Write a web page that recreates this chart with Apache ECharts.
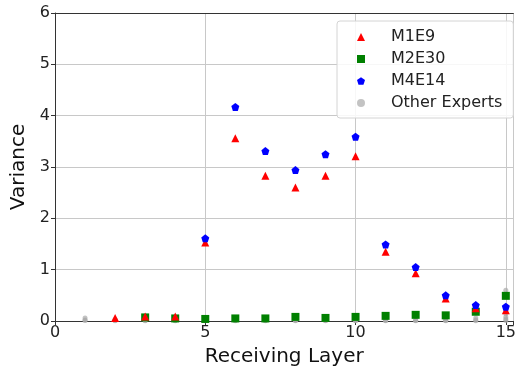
<!DOCTYPE html>
<html>
<head>
<meta charset="utf-8">
<script src="https://cdn.jsdelivr.net/npm/echarts@6/dist/echarts.min.js"></script>
<style>html,body{margin:0;padding:0;background:#fff}#c{width:519px;height:373px}</style>
</head>
<body>
<div id="c"></div>
<script>
const layers = [1,2,3,4,5,6,7,8,9,10,11,12,13,14,15];
const m1e9Layers = [2,3,4,5,6,7,8,9,10,11,12,13,14,15];
const m1e9 = [0.06,0.09,0.09,1.53,3.56,2.83,2.60,2.83,3.21,1.35,0.93,0.44,0.25,0.21];
const m2e30Layers = [3,4,5,6,7,8,9,10,11,12,13,14,15];
const m2e30 = [0.07,0.05,0.04,0.05,0.05,0.08,0.06,0.08,0.10,0.12,0.11,0.18,0.49];
const m4e14Layers = [5,6,7,8,9,10,11,12,13,14,15];
const m4e14 = [1.61,4.17,3.31,2.94,3.25,3.59,1.49,1.05,0.50,0.31,0.28];
// other experts: several small values per layer
const otherLayers = [1,1,1,2,2,2,3,3,3,4,4,4,5,5,5,6,6,6,7,7,7,8,8,8,9,9,9,10,10,10,11,11,11,12,12,12,13,13,13,14,14,14,15,15,15,15,15];
const otherVals = [0.06,0.02,0.01,0.03,0.01,0.005,0.03,0.01,0.005,0.03,0.01,0.005,0.02,0.01,0.005,0.02,0.01,0.005,0.02,0.01,0.005,0.02,0.01,0.005,0.02,0.01,0.005,0.02,0.01,0.005,0.02,0.01,0.005,0.02,0.01,0.005,0.02,0.01,0.005,0.06,0.02,0.005,0.60,0.14,0.08,0.04,0.01];

const pair = (xs, ys) => xs.map((x, i) => [x, ys[i]]);
const pentagon = 'path://M0,-1 L0.951,-0.309 L0.588,0.809 L-0.588,0.809 L-0.951,-0.309 Z';
const font = 'DejaVu Sans';
const xMax = 15.25;

const chart = echarts.init(document.getElementById('c'), null, {renderer: 'canvas'});
chart.setOption({
  animation: false,
  backgroundColor: '#fff',
  textStyle: {fontFamily: font},
  grid: {left: 55, top: 13, right: 0, bottom: 52, show: false},
  legend: {
    orient: 'vertical', left: 337, top: 21,
    backgroundColor: 'rgba(255,255,255,0.85)', borderColor: '#d4d4d4', borderWidth: 1, borderRadius: 3,
    padding: [8, 11, 7, 20], itemGap: 6, itemWidth: 8, itemHeight: 8,
    textStyle: {fontFamily: font, fontSize: 16, color: '#222', padding: [0, 0, 0, 21]},
    data: [
      {name: 'M1E9', icon: 'triangle'},
      {name: 'M2E30', icon: 'rect'},
      {name: 'M4E14', icon: pentagon},
      {name: 'Other Experts', icon: 'circle'}
    ]
  },
  xAxis: [{
    type: 'value', min: 0, max: xMax, interval: 5,
    name: 'Receiving Layer', nameLocation: 'middle', nameGap: 26,
    nameTextStyle: {fontFamily: font, fontSize: 20, color: '#111'},
    axisLine: {show: true, onZero: false, lineStyle: {color: '#333'}},
    axisTick: {show: true, inside: false, length: 4, lineStyle: {color: '#333'}},
    axisLabel: {fontFamily: font, fontSize: 16, color: '#222', margin: 4,
      formatter: v => (v % 5 === 0 ? String(v) : '')},
    splitLine: {show: true, lineStyle: {color: '#c8c8c8', width: 1}}
  }, {
    type: 'value', position: 'top', min: 0, max: xMax,
    axisLine: {show: true, onZero: false, lineStyle: {color: '#333'}},
    axisTick: {show: false}, axisLabel: {show: false}, splitLine: {show: false}
  }],
  yAxis: {
    type: 'value', min: 0, max: 6, interval: 1,
    name: 'Variance', nameLocation: 'middle', nameGap: 26, nameRotate: 90,
    nameTextStyle: {fontFamily: font, fontSize: 20, color: '#111'},
    axisLine: {show: true, lineStyle: {color: '#333'}},
    axisTick: {show: true, inside: false, length: 4, lineStyle: {color: '#333'}},
    axisLabel: {fontFamily: font, fontSize: 16, color: '#222', margin: 5},
    splitLine: {show: true, lineStyle: {color: '#c8c8c8', width: 1}}
  },
  series: [
    {name: 'Other Experts', type: 'scatter', symbol: 'circle', symbolSize: 5, z: 1,
      itemStyle: {color: '#aaaaaa', opacity: 0.7}, data: pair(otherLayers, otherVals)},
    {name: 'M2E30', type: 'scatter', symbol: 'rect', symbolSize: 8, z: 2,
      itemStyle: {color: '#008000', opacity: 1}, data: pair(m2e30Layers, m2e30)},
    {name: 'M1E9', type: 'scatter', symbol: 'triangle', symbolSize: 8, z: 3,
      itemStyle: {color: '#ff0000', opacity: 1}, data: pair(m1e9Layers, m1e9)},
    {name: 'M4E14', type: 'scatter', symbol: pentagon, symbolSize: 8, z: 4,
      itemStyle: {color: '#0000ff', opacity: 1}, data: pair(m4e14Layers, m4e14)}
  ]
});
</script>
</body>
</html>
